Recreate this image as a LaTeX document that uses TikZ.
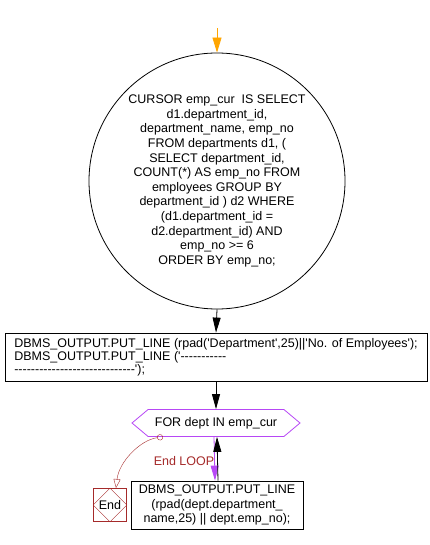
\documentclass[tikz,border=0pt]{standalone}
\usepackage{fontspec}
\setmainfont{Liberation Sans}[Ligatures=TeXOff]
\usetikzlibrary{arrows.meta,shapes.symbols}
\definecolor{loopviolet}{RGB}{183,72,245}
\definecolor{endred}{RGB}{165,42,42}
\definecolor{startorange}{RGB}{255,165,0}

\begin{document}
\begin{tikzpicture}[x=1pt,y=-1pt,line width=0.8pt,>={Triangle[width=8pt,length=15pt]},
    every node/.style={font=\fontsize{12.5}{14.6}\selectfont},
    stmt/.style={draw,rectangle,inner sep=0pt},
    loophex/.style={draw=loopviolet,signal,signal to=east and west,
      signal pointer angle=80,minimum width=168pt,minimum height=27pt,inner sep=0pt},
    endbox/.style={draw=endred,text=black,minimum size=33pt,inner sep=0pt}]
  \useasboundingbox (0,0) rectangle (430,545);

  \coordinate (start) at (217,28);
  \node[draw,circle,minimum size=256pt,inner sep=0pt,align=center] (cur) at (217,181)
    {CURSOR emp\_cur\ \ IS SELECT\\ d1.department\_id,\\ department\_name, emp\_no\\
     FROM departments d1, (\\ SELECT department\_id,\\ COUNT(*) AS emp\_no FROM\\
     employees GROUP BY\\ department\_id ) d2 WHERE\\ (d1.department\_id =\\
     d2.department\_id) AND\\ emp\_no >= 6\\ ORDER BY emp\_no;};
  \node[stmt,minimum width=422pt,minimum height=48pt,align=left,
    font=\fontsize{12.5}{12.8}\selectfont] (head) at (216,357)
    {DBMS\_OUTPUT.PUT\_LINE (rpad('Department',25)||'No. of Employees');\\
     DBMS\_OUTPUT.PUT\_LINE ('-----------\\
     -----------------------------');};
  \node[loophex] (loop) at (216,423) {FOR dept IN emp\_cur};
  \node[stmt,minimum width=172pt,minimum height=48pt,align=center] (body) at (217,505)
    {DBMS\_OUTPUT.PUT\_LINE\\ (rpad(dept.department\_\\ name,25) || dept.emp\_no);};
  \node[endbox] (end) at (110,505) {End};
  \draw[endred,thin] (end.north) -- (end.east) -- (end.south) -- (end.west) -- cycle;

  \draw[->,startorange,>={Triangle[width=9pt,length=15pt]}] (start) -- (cur.north);
  \draw[->] (cur.south) -- (head.north);
  \draw[->] (head.south) -- (loop.north);
  \draw[->,loopviolet] ([xshift=-2pt]loop.south) -- ([xshift=-2pt]body.north);
  \draw[->] ([xshift=1pt]body.north) -- ([xshift=1pt]loop.south);

  % exit of the loop
  \coordinate (exit) at ([xshift=-53pt]loop.south);
  \draw[endred,thin,{Circle[open,length=6pt]}-{Triangle[open,width=7pt,length=9pt]}]
    (exit) .. controls (140,440) and (119,462) .. ([xshift=6pt]end.north);
  \node[text=endred] (endlbl) at (184,461) {End LOOP};
\end{tikzpicture}
\end{document}
